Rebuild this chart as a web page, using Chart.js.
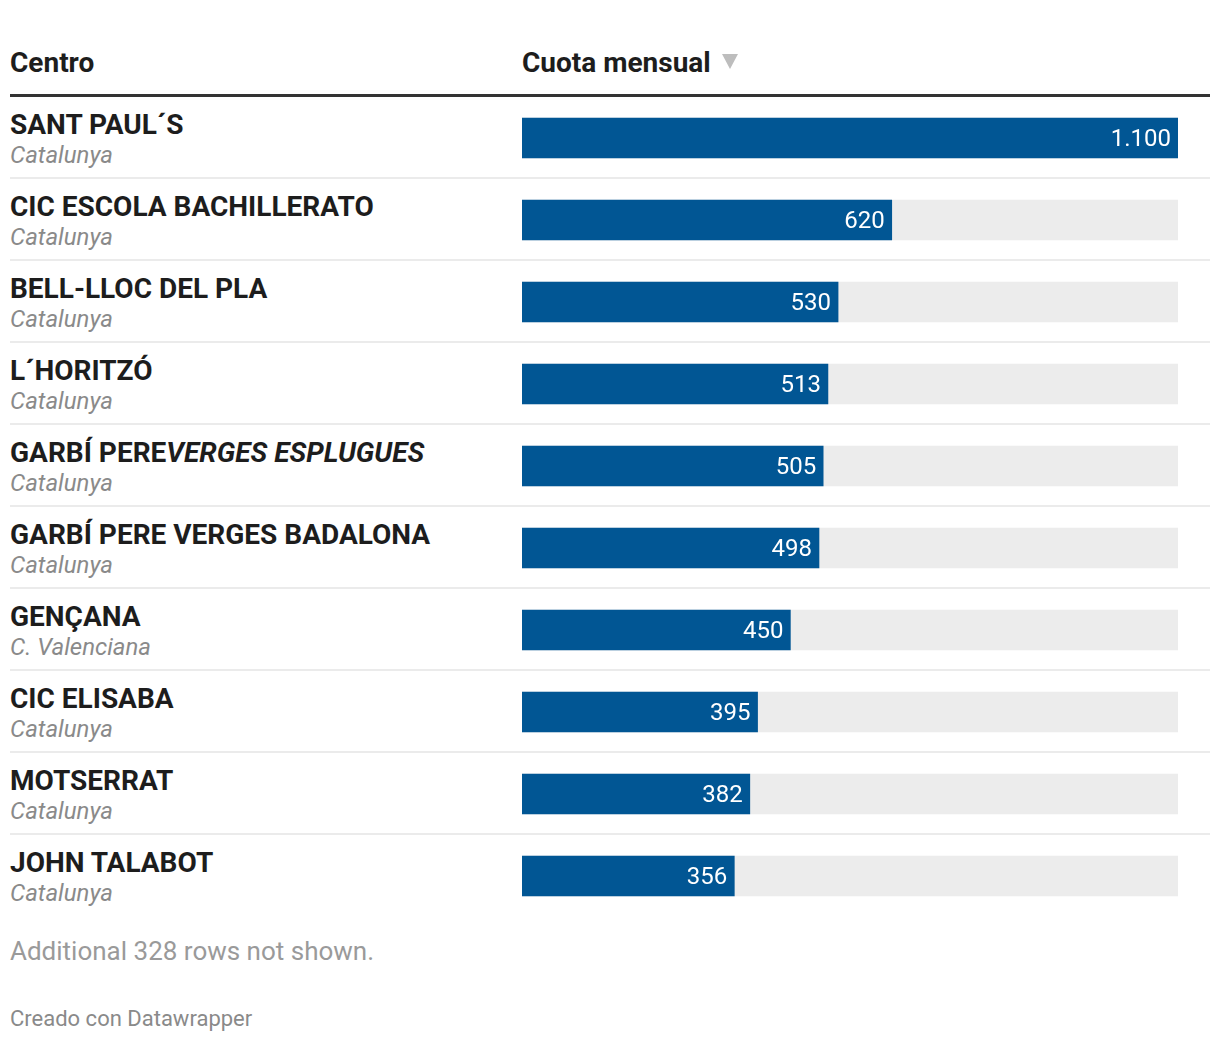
<!DOCTYPE html>
<html lang="es">
<head>
  <meta charset="UTF-8" />
  <title>Cuota mensual por centro</title>
  <style>
    body {
      margin: 0;
      font-family: Roboto, 'Noto Sans', sans-serif;
      background-color: #fff;
      color: #1d1d1d;
    }
    .wrap {
      position: relative;
      width: 1220px;
      height: 1042px;
    }
    .head {
      position: absolute;
      top: 47px;
      font-size: 28px;
      font-weight: 700;
      line-height: 32px;
      color: #1d1d1d;
      white-space: nowrap;
    }
    .arrow {
      position: absolute;
      left: 722px;
      top: 54px;
      width: 0;
      height: 0;
      border-left: 8px solid transparent;
      border-right: 8px solid transparent;
      border-top: 15px solid #bdbdbd;
    }
    .rule {
      position: absolute;
      left: 10px;
      width: 1200px;
      top: 94px;
      height: 3px;
      background: #333;
    }
    .rows {
      position: absolute;
      left: 0;
      top: 97px;
      width: 1220px;
      height: 820px;
    }
    .row {
      position: absolute;
      left: 10px;
      width: 1200px;
      height: 82px;
    }
    .row.sep {
      border-bottom: 2px solid #ebebeb;
      box-sizing: border-box;
    }
    .name {
      position: absolute;
      left: 0;
      top: 12px;
      font-size: 28px;
      font-weight: 700;
      line-height: 32px;
      white-space: nowrap;
    }
    .region {
      position: absolute;
      left: 0;
      top: 44px;
      font-size: 24px;
      font-style: italic;
      line-height: 28px;
      color: #8a8a8a;
      white-space: nowrap;
    }
    canvas {
      position: absolute;
      left: 0;
      top: 0;
    }
    .note {
      position: absolute;
      left: 10px;
      top: 936px;
      font-size: 26px;
      line-height: 30px;
      color: #9a9a9a;
    }
    .credit {
      position: absolute;
      left: 10px;
      top: 1006px;
      font-size: 22px;
      line-height: 26px;
      color: #8a8a8a;
    }
  </style>
</head>
<body>
  <div class="wrap">
    <div class="head" style="left:10px">Centro</div>
    <div class="head" style="left:522px">Cuota mensual</div>
    <div class="arrow"></div>
    <div class="rule"></div>
    <div class="rows" id="rows">
      <canvas id="bars" width="1220" height="820"></canvas>
    </div>
    <div class="note">Additional 328 rows not shown.</div>
    <div class="credit">Creado con Datawrapper</div>
  </div>
  <script src="https://cdn.jsdelivr.net/npm/chart.js"></script>
  <script>
    // table rows, top to bottom
    const centros = [
      'SANT PAUL´S',
      'CIC ESCOLA BACHILLERATO',
      'BELL-LLOC DEL PLA',
      'L´HORITZÓ',
      'GARBÍ PERE<i>VERGES ESPLUGUES</i>',
      'GARBÍ PERE VERGES BADALONA',
      'GENÇANA',
      'CIC ELISABA',
      'MOTSERRAT',
      'JOHN TALABOT'
    ];
    const regiones = [
      'Catalunya', 'Catalunya', 'Catalunya', 'Catalunya', 'Catalunya',
      'Catalunya', 'C. Valenciana', 'Catalunya', 'Catalunya', 'Catalunya'
    ];
    const cuota = [1100, 620, 530, 513, 505, 498, 450, 395, 382, 356];

    const axisMax = Math.max(...cuota);
    const rowH = 82;

    // left-hand labels as html rows
    const rowsEl = document.getElementById('rows');
    centros.forEach((c, i) => {
      const row = document.createElement('div');
      row.className = 'row' + (i < centros.length - 1 ? ' sep' : '');
      row.style.top = (i * rowH) + 'px';
      row.innerHTML = '<div class="name">' + c + '</div><div class="region">' + regiones[i] + '</div>';
      rowsEl.insertBefore(row, rowsEl.firstChild);
    });

    function fmt(v) {
      return String(v).replace(/\B(?=(\d{3})+(?!\d))/g, '.');
    }

    // values written inside the end of each blue bar
    const valueLabels = {
      id: 'valueLabels',
      afterDatasetsDraw(chart) {
        const ctx = chart.ctx;
        const meta = chart.getDatasetMeta(0);
        ctx.save();
        ctx.font = '24px Roboto, sans-serif';
        ctx.fillStyle = '#fff';
        ctx.textAlign = 'right';
        ctx.textBaseline = 'middle';
        meta.data.forEach((bar, i) => {
          ctx.fillText(fmt(cuota[i]), bar.x - 7, bar.y + 2);
        });
        ctx.restore();
      }
    };

    new Chart(document.getElementById('bars'), {
      type: 'bar',
      data: {
        labels: centros,
        datasets: [
          {
            data: cuota,
            backgroundColor: '#015694',
            barThickness: 40,
            grouped: false,
            order: 1
          },
          {
            data: cuota.map(() => axisMax),
            backgroundColor: '#ececec',
            barThickness: 40,
            grouped: false,
            order: 2
          }
        ]
      },
      options: {
        indexAxis: 'y',
        responsive: false,
        animation: false,
        layout: { padding: { left: 522, right: 42, top: 0, bottom: 0 } },
        scales: {
          x: { min: 0, max: axisMax, display: false },
          y: { display: false, offset: true }
        },
        plugins: {
          legend: { display: false },
          tooltip: { enabled: false }
        }
      },
      plugins: [valueLabels]
    });
  </script>
</body>
</html>
